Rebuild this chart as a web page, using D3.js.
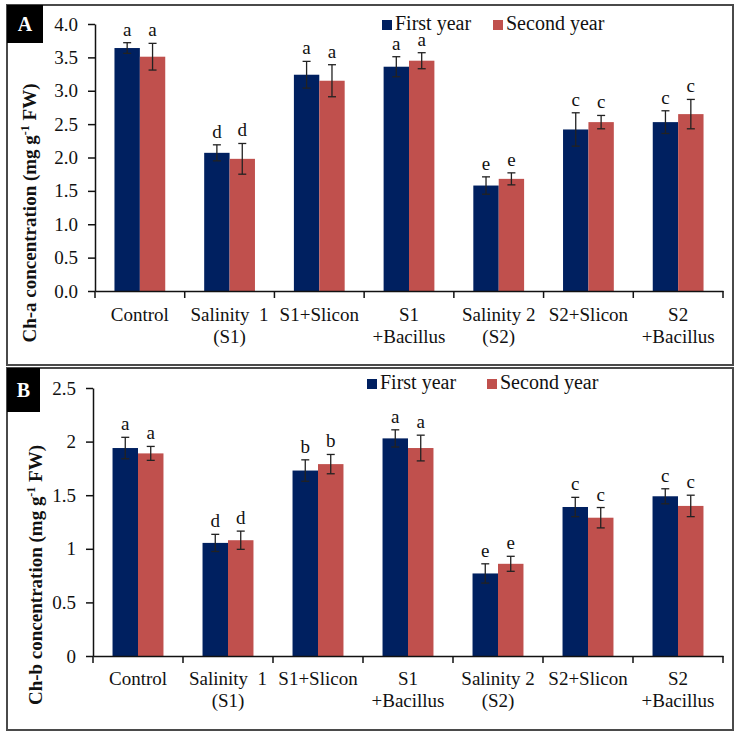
<!DOCTYPE html>
<html>
<head>
<meta charset="utf-8">
<script src="https://cdn.jsdelivr.net/npm/d3@7/dist/d3.min.js"></script>
<style>
  body { margin: 0; background: #fff; }
  svg { display: block; font-family: "Liberation Serif", "Times New Roman", serif; }
</style>
</head>
<body>
<svg id="chart" width="741" height="736"></svg>
<script>
// ---- data ----
const categories = ["Control", "Salinity 1 (S1)", "S1+Slicon", "S1 +Bacillus", "Salinity 2 (S2)", "S2+Slicon", "S2 +Bacillus"];
const categoryLines = [["Control"], ["Salinity\u00a0\u00a01", "(S1)"], ["S1+Slicon"], ["S1", "+Bacillus"], ["Salinity 2", "(S2)"], ["S2+Slicon"], ["S2", "+Bacillus"]];
const seriesNames = ["First year", "Second year"];

const chaFirst  = [3.64, 2.07, 3.24, 3.36, 1.58, 2.42, 2.53];
const chaSecond = [3.51, 1.98, 3.15, 3.45, 1.68, 2.53, 2.65];
const chaFirstErr  = [0.08, 0.12, 0.20, 0.15, 0.13, 0.25, 0.17];
const chaSecondErr = [0.20, 0.23, 0.24, 0.12, 0.09, 0.10, 0.22];
const chaFirstLetters  = ["a", "d", "a", "a", "e", "c", "c"];
const chaSecondLetters = ["a", "d", "a", "a", "e", "c", "c"];
const chaTicks = [0, 0.5, 1, 1.5, 2, 2.5, 3, 3.5, 4];

const chbFirst  = [1.94, 1.055, 1.73, 2.03, 0.77, 1.39, 1.49];
const chbSecond = [1.89, 1.08, 1.79, 1.94, 0.86, 1.29, 1.40];
const chbFirstErr  = [0.10, 0.08, 0.10, 0.08, 0.09, 0.09, 0.07];
const chbSecondErr = [0.065, 0.085, 0.09, 0.12, 0.07, 0.095, 0.10];
const chbFirstLetters  = ["a", "d", "b", "a", "e", "c", "c"];
const chbSecondLetters = ["a", "d", "b", "a", "e", "c", "c"];
const chbTicks = [0, 0.5, 1, 1.5, 2, 2.5];

const colors = ["#002060", "#C0504D"];

const svg = d3.select("#chart");

function drawPanel(cfg) {
  const g = svg.append("g");
  // panel frame
  g.append("rect").attr("x", cfg.frame[0]).attr("y", cfg.frame[1])
    .attr("width", cfg.frame[2]).attr("height", cfg.frame[3])
    .attr("fill", "#fff").attr("stroke", "#4a4a4a").attr("stroke-width", 2);
  // panel tag
  g.append("rect").attr("x", cfg.frame[0]).attr("y", cfg.frame[1])
    .attr("width", cfg.tag[0]).attr("height", cfg.tag[1]).attr("fill", "#000");
  g.append("text").attr("x", cfg.frame[0] + cfg.tag[0] / 2).attr("y", cfg.frame[1] + cfg.tag[1] / 2 + 7)
    .attr("text-anchor", "middle").attr("fill", "#fff").attr("font-weight", "bold")
    .attr("font-size", 20).text(cfg.label);

  const x = d3.scaleBand().domain(categories).range([cfg.left, cfg.right]).padding(0);
  const bw = x.bandwidth();
  const x1 = d3.scaleBand().domain(seriesNames).range([bw * 0.217, bw * 0.783]).padding(0);
  const y = d3.scaleLinear().domain([0, cfg.ymax]).range([cfg.bottom, cfg.top]);

  const rows = [];
  categories.forEach((c, i) => {
    cfg.values.forEach((vals, s) => {
      rows.push({ c, s, v: vals[i], e: cfg.errs[s][i], l: cfg.letters[s][i] });
    });
  });

  // bars
  g.selectAll(".bar").data(rows).join("rect")
    .attr("x", d => x(d.c) + x1(seriesNames[d.s]))
    .attr("y", d => y(d.v))
    .attr("width", x1.bandwidth())
    .attr("height", d => y(0) - y(d.v))
    .attr("fill", d => colors[d.s]);

  // error bars
  const eg = g.selectAll(".err").data(rows).join("g");
  const cx = d => x(d.c) + x1(seriesNames[d.s]) + x1.bandwidth() / 2;
  eg.append("line").attr("x1", cx).attr("x2", cx)
    .attr("y1", d => y(d.v + d.e)).attr("y2", d => y(d.v - d.e))
    .attr("stroke", "#222").attr("stroke-width", 1.3);
  eg.append("line").attr("x1", d => cx(d) - 4).attr("x2", d => cx(d) + 4)
    .attr("y1", d => y(d.v + d.e)).attr("y2", d => y(d.v + d.e))
    .attr("stroke", "#222").attr("stroke-width", 1.3);
  eg.append("line").attr("x1", d => cx(d) - 4).attr("x2", d => cx(d) + 4)
    .attr("y1", d => y(d.v - d.e)).attr("y2", d => y(d.v - d.e))
    .attr("stroke", "#222").attr("stroke-width", 1.3);
  // letters
  g.selectAll(".let").data(rows).join("text")
    .attr("x", cx).attr("y", d => y(d.v + d.e) - 7)
    .attr("text-anchor", "middle").attr("font-size", 19).attr("fill", "#111")
    .text(d => d.l);

  // y axis
  const ya = g.append("g").attr("transform", `translate(${cfg.left},0)`)
    .call(d3.axisLeft(y).tickValues(cfg.ticks).tickFormat(cfg.fmt).tickSize(7).tickPadding(10).tickSizeOuter(0));
  ya.select(".domain").attr("stroke", "#111").attr("stroke-width", 1.5);
  ya.selectAll(".tick line").attr("stroke", "#111").attr("stroke-width", 1.5);
  ya.selectAll(".tick text").attr("font-size", 19).attr("fill", "#111")
    .attr("font-family", "Liberation Serif, Times New Roman, serif");

  // x axis line
  const xa = g.append("g").attr("transform", `translate(0,${cfg.bottom})`)
    .call(d3.axisBottom(x).tickSize(0).tickFormat(""));
  xa.select(".domain").attr("stroke", "#111").attr("stroke-width", 1.5);
  // boundary ticks
  const bounds = categories.map(c => x(c)).concat([x(categories[categories.length - 1]) + bw]);
  g.selectAll(".xt").data(bounds).join("line")
    .attr("x1", d => d).attr("x2", d => d)
    .attr("y1", cfg.bottom).attr("y2", cfg.bottom + 7)
    .attr("stroke", "#111").attr("stroke-width", 1.5);
  // category labels
  categories.forEach((c, i) => {
    const t = g.append("text").attr("text-anchor", "middle").attr("font-size", 19).attr("fill", "#111");
    categoryLines[i].forEach((ln, k) => {
      t.append("tspan").attr("x", x(c) + bw / 2).attr("y", cfg.bottom + cfg.labelOff + k * 22).text(ln);
    });
  });

  // y title
  const tt = g.append("text")
    .attr("transform", `translate(${cfg.titlePos[0]},${cfg.titlePos[1]}) rotate(-90)`)
    .attr("text-anchor", "middle").attr("font-weight", "bold").attr("font-size", 19).attr("fill", "#111");
  tt.append("tspan").text(cfg.title + " (mg g");
  tt.append("tspan").attr("font-size", 12).attr("dy", -7).text("-1");
  tt.append("tspan").attr("dy", 7).text(" FW)");

  // legend
  seriesNames.forEach((s, i) => {
    const lx = cfg.legend[i];
    g.append("rect").attr("x", lx).attr("y", cfg.legendY - 10).attr("width", 10).attr("height", 10).attr("fill", colors[i]);
    g.append("text").attr("x", lx + 13).attr("y", cfg.legendY).attr("font-size", 20).attr("fill", "#111").text(s);
  });
}

drawPanel({
  frame: [7, 5, 726, 360], tag: [36, 38], label: "A",
  left: 95, right: 723, top: 24, bottom: 291, ymax: 4, ticks: chaTicks, fmt: d3.format(".1f"),
  values: [chaFirst, chaSecond], errs: [chaFirstErr, chaSecondErr], letters: [chaFirstLetters, chaSecondLetters],
  labelOff: 30, title: "Ch-a concentration", titlePos: [36, 213],
  legend: [382, 493], legendY: 30
});

drawPanel({
  frame: [7, 368, 726, 362], tag: [33, 44], label: "B",
  left: 93, right: 723, top: 388, bottom: 656, ymax: 2.5, ticks: chbTicks, fmt: d => String(d),
  values: [chbFirst, chbSecond], errs: [chbFirstErr, chbSecondErr], letters: [chbFirstLetters, chbSecondLetters],
  labelOff: 29, title: "Ch-b concentration", titlePos: [42, 575],
  legend: [367, 487], legendY: 389
});
</script>
</body>
</html>
